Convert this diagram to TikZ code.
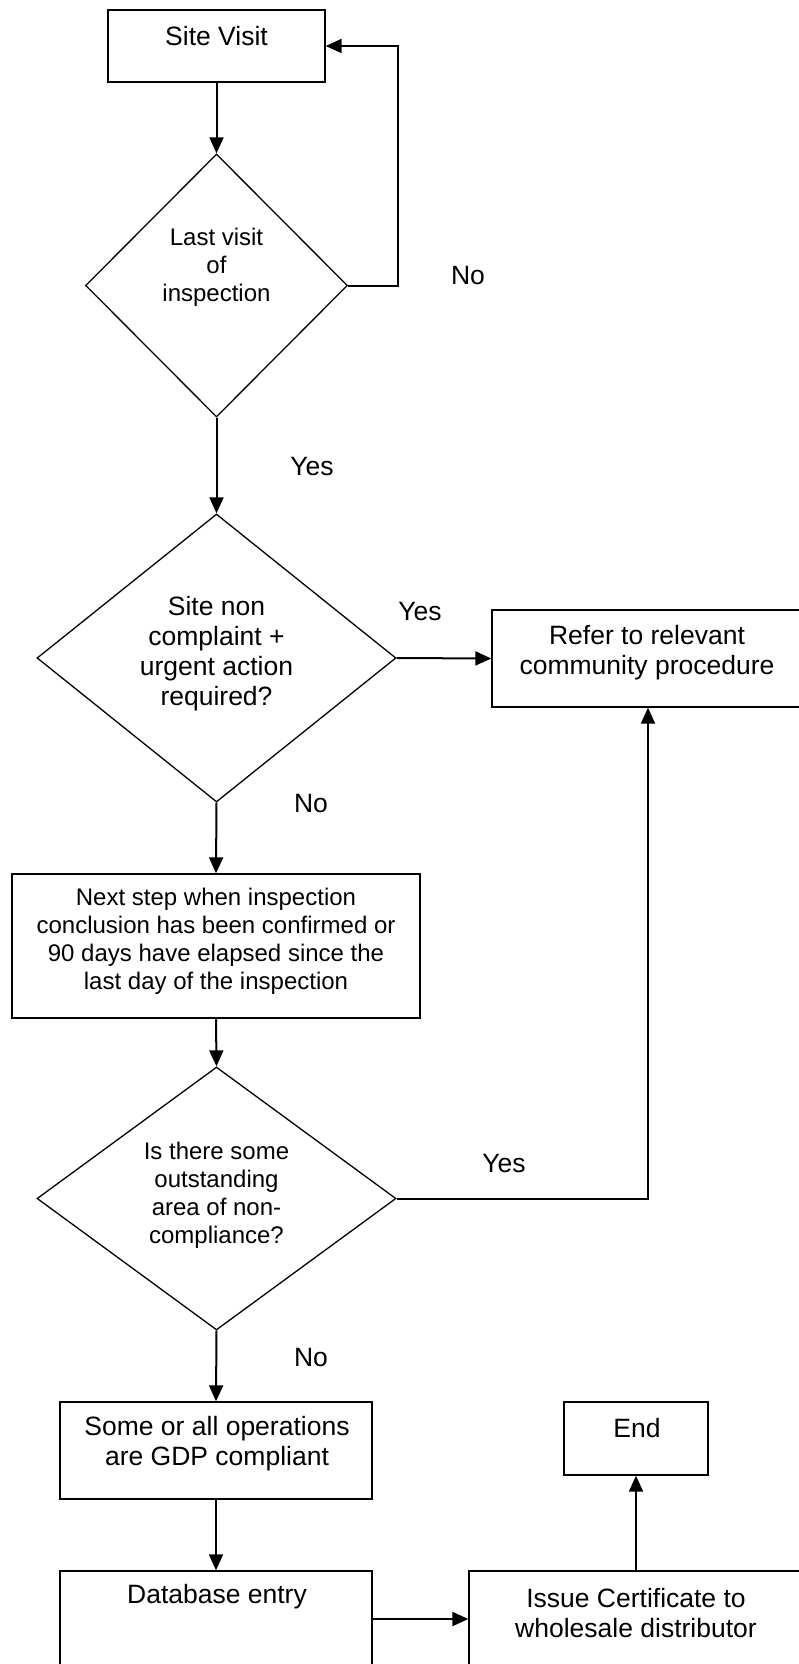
\documentclass[tikz,border=0pt]{standalone}
\usepackage{fontspec}
\setmainfont{Liberation Sans}
\usetikzlibrary{arrows.meta,shapes.geometric}
\begin{document}
\begin{tikzpicture}[x=1pt,y=-1pt,
  box/.style={draw,line width=1.3pt,rectangle,inner sep=0pt},
  dia/.style={draw,line width=1.3pt,diamond,inner sep=0pt},
  big/.style={font=\fontsize{26.5}{30}\selectfont,align=center,inner sep=0pt},
  small/.style={font=\fontsize{24}{28}\selectfont,align=center,inner sep=0pt},
  conn/.style={line width=2pt,-{Triangle[length=16pt,width=14pt]}}]
\useasboundingbox (0,0) rectangle (798,1664);
% shapes
\node[box,minimum width=217pt,minimum height=72pt] (sv) at (216.5,46) {};
\node[dia,minimum width=262pt,minimum height=263pt] (d1) at (216.5,285.5) {};
\node[dia,minimum width=359pt,minimum height=288pt] (d2) at (216.5,658) {};
\node[box,minimum width=316pt,minimum height=97pt] (refer) at (650,658.5) {};
\node[box,minimum width=408pt,minimum height=144pt] (next) at (216,946) {};
\node[dia,minimum width=359pt,minimum height=263pt] (d3) at (216.5,1198.5) {};
\node[box,minimum width=312pt,minimum height=97pt] (some) at (216,1450.5) {};
\node[box,minimum width=144pt,minimum height=73pt] (end) at (636,1438.5) {};
\node[box,minimum width=312pt,minimum height=96pt] (db) at (216,1619) {};
\node[box,minimum width=341pt,minimum height=96pt] (issue) at (639.5,1619) {};
% texts
\node[big] (tsv) at (216.5,36) {Site Visit};
\node[small] (td1) at (216.5,267) {Last visit\\of\\inspection};
\node[big] (td2) at (216.5,654) {Site non\\complaint +\\urgent action\\required?};
\node[big] (trefer) at (647,653) {Refer to relevant\\community procedure};
\node[small] (tnext) at (216,941) {Next step when inspection\\conclusion has been confirmed or\\90 days have elapsed since the\\last day of the inspection};
\node[small] (td3) at (216.5,1195) {Is there some\\outstanding\\area of non-\\compliance?};
\node[big] (tsome) at (217,1444) {Some or all operations\\are GDP compliant};
\node[big] (tend) at (637,1428) {End};
\node[big] (tdb) at (217,1597) {Database entry};
\node[big] (tissue) at (636,1613) {Issue Certificate to\\wholesale distributor};
% edge labels
\node[big] (l1) at (468,276) {No};
\node[big] (l2) at (312,467) {Yes};
\node[big] (l3) at (420,612) {Yes};
\node[big] (l4) at (311,804) {No};
\node[big] (l5) at (504,1163) {Yes};
\node[big] (l6) at (311,1357) {No};
% connectors
\draw[conn] (sv.south) -- (d1.north);
\draw[conn] (d1.east) -- ++(50,0) |- (sv.east);
\draw[conn] (d1.south) -- (d2.north);
\draw[conn] (d2.east) -- (refer.west);
\draw[conn] (d2.south) -- (next.north);
\draw[conn] (next.south) -- (d3.north);
\draw[conn] (d3.east) -| ([xshift=-2pt]refer.south);
\draw[conn] (d3.south) -- (some.north);
\draw[conn] (some.south) -- (db.north);
\draw[conn] (db.east) -- (issue.west);
\draw[conn] (issue.north -| end.south) -- (end.south);
\end{tikzpicture}
\end{document}
